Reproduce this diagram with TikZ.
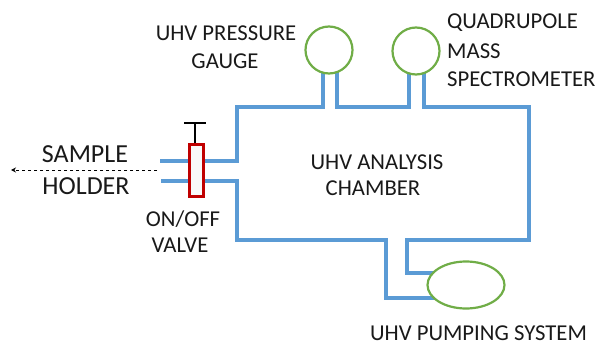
\documentclass[tikz,border=0pt]{standalone}
\usepackage{fontspec}
\setmainfont{Carlito}
\usetikzlibrary{shapes.geometric,arrows.meta}
\definecolor{pipeblue}{RGB}{91,155,213}
\definecolor{gaugegreen}{RGB}{112,173,71}
\definecolor{valvered}{RGB}{192,0,0}
\tikzset{
  pipe/.style={draw=pipeblue,line width=4.2pt,line join=miter},
  instr/.style={draw=gaugegreen,line width=2.2pt,fill=white,inner sep=0pt},
  lab/.style={font=\fontsize{22.7}{26}\selectfont,text=black!90,inner sep=0pt},
  biglab/.style={font=\fontsize{26}{30}\selectfont,text=black!90,inner sep=0pt}
}
\begin{document}
\begin{tikzpicture}[x=1pt,y=-1pt]
\useasboundingbox (0,0) rectangle (598,345);
% free pipe ends
\coordinate (upEnd) at (160,161);
\coordinate (loEnd) at (161,181);
\coordinate (tl) at (237,107);
\coordinate (bl) at (237,240);
\coordinate (tr) at (529,107);
\coordinate (br) at (529,240);
\coordinate (g1L) at (323,72);
\coordinate (g1R) at (337,72);
\coordinate (g2L) at (409,73);
\coordinate (g2R) at (424,73);
\coordinate (p1) at (386,298);
\coordinate (p1e) at (436,298);
\coordinate (p2) at (407,273);
\coordinate (p2e) at (440,273);
% pipes
\draw[pipe] (upEnd) -- (237,161) -- (tl) -- (g1L |- tl) -- (g1L);
\draw[pipe] (g1R) -- (g1R |- tl) -- (g2L |- tl) -- (g2L);
\draw[pipe] (g2R) -- (g2R |- tl) -- (tr) -- (br) -- (p2 |- br) -- (p2) -- (p2e);
\draw[pipe] (loEnd) -- (237,181) -- (bl) -- (p1 |- bl) -- (p1) -- (p1e);
% instruments
\node[instr,circle,minimum size=47pt] (gauge) at (329,50) {};
\node[instr,circle,minimum size=47pt] (qms) at (416,51) {};
\node[instr,ellipse,minimum width=77pt,minimum height=47pt] (pump) at (466,285) {};
% valve
\node[draw=valvered,line width=2.2pt,fill=white!95!gray,minimum width=14pt,minimum height=52pt,inner sep=0pt] (valve) at (196.5,170.5) {};
\coordinate (stem) at (195,123);
\coordinate (barL) at (184,123);
\coordinate (barR) at (206,123);
\draw[black,line width=1.8pt] (valve.north -| stem) -- (stem);
\draw[black,line width=1.8pt] (barL) -- (barR);
% exit arrow
\coordinate (arrS) at (157,170);
\coordinate (arrE) at (11,170);
\draw[dashed,black,line width=0.8pt,-{Stealth[length=5pt,width=5pt,open]}] (arrS) -- (arrE);
% labels
\node[biglab] (sample) at (85,154) {SAMPLE};
\node[biglab] (holder) at (86,186) {HOLDER};
\node[lab] (onoff) at (183,219) {ON/OFF};
\node[lab] (vlv) at (180,245) {VALVE};
\node[lab] (l1) at (226,33) {UHV PRESSURE};
\node[lab] (l2) at (225,61) {GAUGE};
\node[lab,anchor=west] (q1) at (447,23) {QUADRUPOLE};
\node[lab,anchor=west] (q2) at (447,51) {MASS};
\node[lab,anchor=west] (q3) at (447,79) {SPECTROMETER};
\node[lab] (c1) at (377,162) {UHV ANALYSIS};
\node[lab] (c2) at (373,188) {CHAMBER};
\node[lab] (p) at (478.5,333) {UHV PUMPING SYSTEM};
\end{tikzpicture}
\end{document}
